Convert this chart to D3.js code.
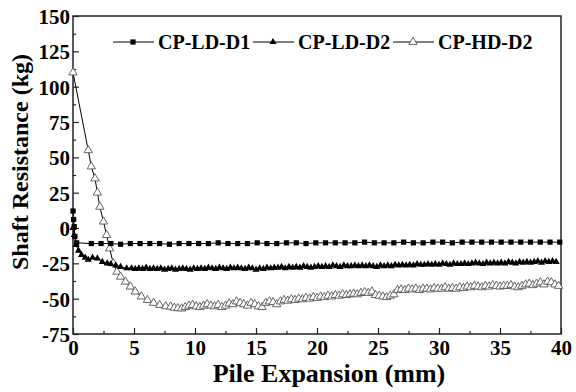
<!DOCTYPE html>
<html>
<head>
<meta charset="utf-8">
<script src="https://cdn.jsdelivr.net/npm/d3@7"></script>
<style>
  body { margin: 0; background: #fff; }
</style>
</head>
<body>
<svg id="chart" width="576" height="392"></svg>
<script>
// CP-LD-D1 (filled squares)
const d1HeadX = [0, 0.05, 0.1, 0.15, 0.3];
const d1HeadY = [12, 6, 1, -6, -10.5];
const d1TailStart = 1.5, d1TailStep = 0.8;
const d1TailY = [
    -11, -11, -11, -11.5, -11, -11, -11, -11, -11.5, -11,
    -11, -11, -11, -10.5, -11, -11, -11, -10.5, -11, -11,
    -10.5, -10.5, -11, -10.5, -10.5, -10.5, -10.5, -10.5, -10, -10.5,
    -10.5, -10.5, -10, -10.5, -10.5, -10, -10, -10.5, -10, -10,
    -10, -10, -10, -10, -10, -10, -10, -10, -10
];

// CP-LD-D2 (filled triangles)
const d2HeadX = [0, 0.1, 0.25, 0.45, 0.7, 1.0, 1.25, 1.6, 2.0, 2.4, 2.8, 3.1, 3.5, 3.9, 4.4];
const d2HeadY = [0, -5, -12, -16, -19, -21, -22.5, -21, -21.5, -24, -25, -25.5, -26.5, -27.5, -28.5];
const d2TailStart = 4.8, d2TailStep = 0.3;
const d2TailY = [
    -28.5, -29, -28.5, -29, -28, -29, -28.5, -29, -28.5, -29.5,
    -29, -28.5, -29.5, -29, -28.5, -29, -29.5, -28.5, -29, -28.5,
    -29, -28, -28.5, -29, -28, -28.5, -29, -28, -28.5, -28,
    -28.5, -29, -28, -28.5, -29.5, -28.5, -29, -28, -28.5, -28,
    -28, -27.5, -28.5, -27.5, -28, -27.5, -28, -27, -27.5, -28,
    -27.5, -27, -27.5, -27, -27.5, -26.5, -27, -27.5, -26.5, -27,
    -27, -26.5, -27, -26.5, -27, -26.5, -27, -27.5, -26.5, -27,
    -26.5, -27, -26, -26.5, -26, -26.5, -26, -26.5, -25.5, -26,
    -26, -25.5, -26, -25.5, -26, -25, -25.5, -26, -25, -25.5,
    -25.5, -25, -25.5, -25, -24.5, -25, -25.5, -24.5, -25, -24.5,
    -25, -24.5, -25, -24, -24.5, -25, -24, -24.5, -24, -24.5,
    -24, -23.5, -24.5, -23.5, -24, -23.5, -24
];

// CP-HD-D2 (open triangles)
const h2HeadX = [0, 1.25, 1.5, 1.8, 2.0, 2.2, 2.5, 2.75, 3.0, 3.3, 3.6, 3.9, 4.3, 4.7, 5.1, 5.6, 6.1, 6.6, 7.1, 7.6];
const h2HeadY = [110, 55, 43.5, 35, 25, 15, 4.5, -5, -14.5, -25, -31, -34.5, -38, -41.5, -45, -48.5, -51, -53, -54.5, -55.5];
const h2TailStart = 8.0, h2TailStep = 0.3;
const h2TailY = [
    -55.7, -56.5, -56.8, -57, -56, -55, -54.5, -55.5, -56, -55,
    -54, -55, -55.5, -54.5, -56, -55, -53.5, -54, -52, -53,
    -54, -55, -53, -54, -55.5, -56, -53, -52, -52.5, -54,
    -52, -51, -51.5, -50.5, -51, -50, -50.5, -49.5, -50, -49,
    -49.5, -48.5, -49, -48, -48.5, -47.5, -48, -47, -47.5, -47,
    -46.5, -47, -46, -45.5, -46, -45, -47.5, -48, -48.5, -49,
    -48, -47, -44, -43.5, -44, -43, -43.5, -43, -44, -43,
    -43, -43.5, -42.5, -43, -43, -42, -43, -42.5, -43, -42,
    -42.5, -41.5, -42, -41, -41.5, -42, -41, -41.5, -40.5, -41,
    -41.5, -41, -41, -40.5, -41.5, -42, -41, -40, -39.5, -40.5,
    -39.5, -38.5, -40, -38, -38.5, -40, -41
];

const seriesNames = ["CP-LD-D1", "CP-LD-D2", "CP-HD-D2"];
const xTicks = [0, 5, 10, 15, 20, 25, 30, 35, 40];
const yTicks = [-75, -50, -25, 0, 25, 50, 75, 100, 125, 150];

const FONT = "Liberation Serif";

function build(headX, headY, start, step, tailY) {
    const pts = headX.map((x, i) => ({ x: x, y: headY[i] }));
    tailY.forEach((y, i) => pts.push({ x: +(start + i * step).toFixed(2), y: y }));
    return pts;
}

const series = [
    { name: seriesNames[0], shape: "square", pts: build(d1HeadX, d1HeadY, d1TailStart, d1TailStep, d1TailY) },
    { name: seriesNames[1], shape: "tri", pts: build(d2HeadX, d2HeadY, d2TailStart, d2TailStep, d2TailY) },
    { name: seriesNames[2], shape: "open", pts: build(h2HeadX, h2HeadY, h2TailStart, h2TailStep, h2TailY) }
];

const svg = d3.select("#chart");
const m = { left: 73, top: 16, right: 561, bottom: 334 };

const x = d3.scaleLinear().domain([0, 40]).range([m.left, m.right]);
const y = d3.scaleLinear().domain([-75, 150]).range([m.bottom, m.top]);

function label(sel, size) {
    return sel.attr("font-family", FONT).attr("font-weight", "bold")
        .attr("font-size", size).attr("fill", "#000");
}

// minor + major ticks, pointing inward
const gx = svg.append("g").attr("transform", `translate(0,${m.bottom})`);
gx.call(d3.axisBottom(x).tickValues(d3.range(0, 41, 2.5)).tickSize(-3).tickFormat(""));
gx.selectAll(".tick line").filter(d => d % 5 === 0).attr("y2", -6);
gx.selectAll(".tick line").attr("stroke", "#222").attr("stroke-width", 1.2);
gx.select(".domain").remove();
gx.selectAll(".tick text").remove();
label(gx.selectAll(".tick").filter(d => xTicks.includes(d)).append("text"), 21)
    .attr("y", 21).attr("text-anchor", "middle")
    .text(d => d);

const gy = svg.append("g").attr("transform", `translate(${m.left},0)`);
gy.call(d3.axisLeft(y).tickValues(d3.range(-75, 151, 12.5)).tickSize(-3).tickFormat(""));
gy.selectAll(".tick line").filter(d => d % 25 === 0).attr("x2", 6);
gy.selectAll(".tick line").attr("stroke", "#222").attr("stroke-width", 1.2);
gy.select(".domain").remove();
gy.selectAll(".tick text").remove();
label(gy.selectAll(".tick").filter(d => yTicks.includes(d)).append("text"), 21)
    .attr("x", -3).attr("dy", "0.35em").attr("text-anchor", "end")
    .text(d => d);

svg.append("rect")
    .attr("x", m.left).attr("y", m.top)
    .attr("width", m.right - m.left).attr("height", m.bottom - m.top)
    .attr("fill", "none").attr("stroke", "#222").attr("stroke-width", 1.5);

const line = d3.line().x(d => x(d.x)).y(d => y(d.y));

function marker(sel, shape) {
    if (shape === "square") {
        sel.append("rect").attr("x", -2.6).attr("y", -2.6).attr("width", 5.2).attr("height", 5.2)
            .attr("fill", "#000");
    } else if (shape === "tri") {
        sel.append("path").attr("d", d3.symbol(d3.symbolTriangle, 22)())
            .attr("fill", "#000");
    } else {
        sel.append("path").attr("d", d3.symbol(d3.symbolTriangle, 30)())
            .attr("fill", "#fff").attr("stroke", "#555").attr("stroke-width", 0.9);
    }
}

series.forEach(s => {
    svg.append("path").datum(s.pts)
        .attr("d", line).attr("fill", "none").attr("stroke", "#000").attr("stroke-width", 1);
});
series.slice().reverse().forEach(s => {
    const g = svg.append("g");
    s.pts.forEach(p => {
        const mk = g.append("g").attr("transform", `translate(${x(p.x)},${y(p.y)})`);
        marker(mk, s.shape);
    });
});

// legend
const legendPos = [113, 253, 393];
series.forEach((s, i) => {
    const lx = legendPos[i], ly = 42;
    svg.append("line").attr("x1", lx).attr("x2", lx + 41).attr("y1", ly).attr("y2", ly)
        .attr("stroke", "#000").attr("stroke-width", 1);
    marker(svg.append("g").attr("transform", `translate(${lx + 20},${ly})`), s.shape);
    label(svg.append("text"), 20).attr("x", lx + 45).attr("y", ly).attr("dy", "0.35em")
        .text(s.name);
});

label(svg.append("text"), 26)
    .attr("x", 329).attr("y", 382)
    .attr("text-anchor", "middle")
    .text("Pile Expansion (mm)");

label(svg.append("text"), 24)
    .attr("transform", "translate(28,162) rotate(-90)")
    .attr("text-anchor", "middle")
    .text("Shaft Resistance (kg)");
</script>
</body>
</html>
